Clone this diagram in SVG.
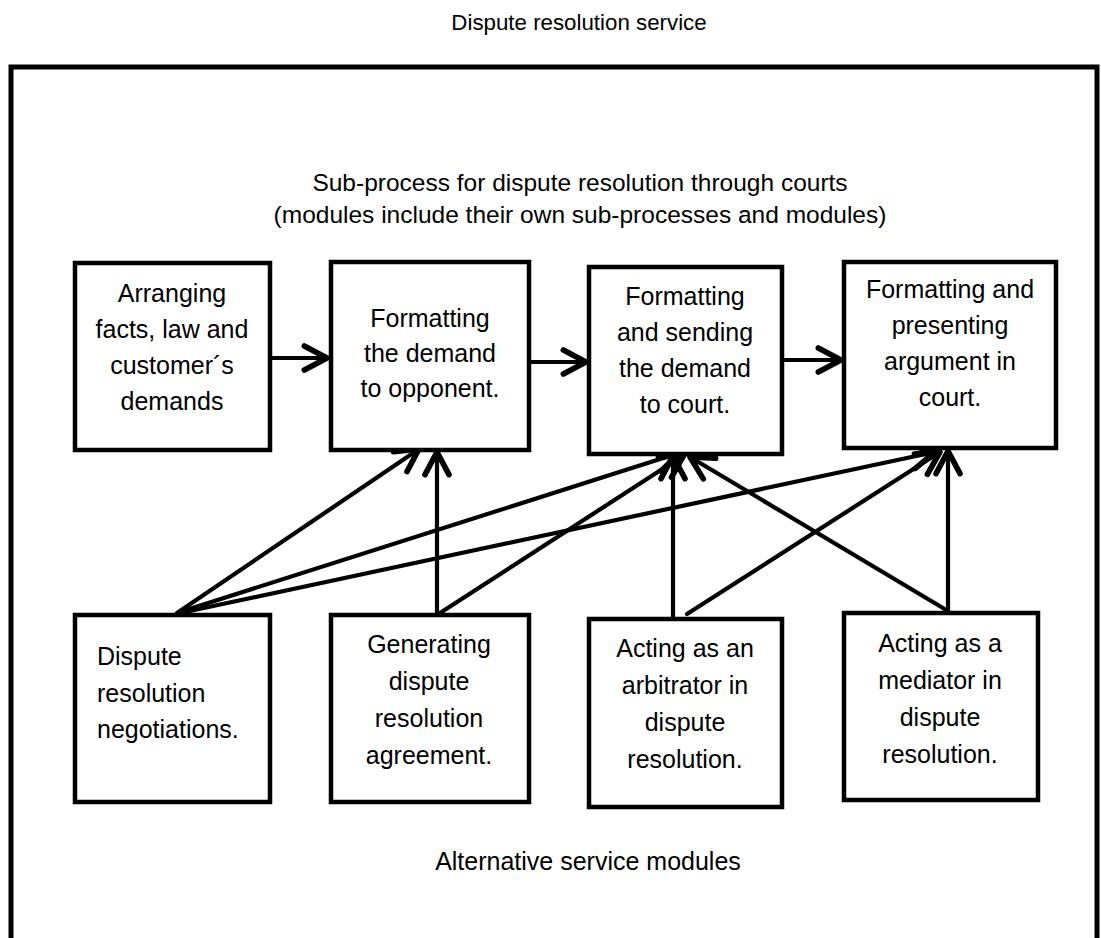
<svg xmlns="http://www.w3.org/2000/svg" width="1101" height="938" viewBox="0 0 1101 938">
<style>
.t{font-family:"Liberation Sans",Arial,sans-serif;font-size:25px;fill:#000;text-anchor:middle}
.l{text-anchor:start}
.box{fill:#fff;stroke:#000;stroke-width:4.5}
.c{fill:none;stroke:#000;stroke-width:4.2;stroke-linecap:round}
</style>
<defs>
<marker id="ah" markerUnits="userSpaceOnUse" markerWidth="40" markerHeight="40" viewBox="-25 -15 30 30" refX="0" refY="0" orient="auto" overflow="visible">
<path d="M-17,-9 L0,0 L-17,9" fill="none" stroke="#000" stroke-width="4.2" stroke-linecap="round" stroke-linejoin="round"/>
</marker>
</defs>
<rect width="1101" height="938" fill="#fff"/>
<text class="t" x="579" y="30" style="font-size:22.3px">Dispute resolution service</text>
<path d="M11,945 V67 H1097 V945" fill="none" stroke="#000" stroke-width="5"/>
<text class="t" x="580" y="191" style="font-size:24.5px">Sub-process for dispute resolution through courts</text>
<text class="t" x="580" y="223" style="font-size:24.5px">(modules include their own sub-processes and modules)</text>
<text class="t" x="588" y="870">Alternative service modules</text>

<g id="connectors">
<line class="c" x1="270" y1="358" x2="327" y2="358" marker-end="url(#ah)"/>
<line class="c" x1="529" y1="362" x2="586" y2="362" marker-end="url(#ah)"/>
<line class="c" x1="782" y1="360" x2="841" y2="360" marker-end="url(#ah)"/>
<line class="c" x1="177" y1="613" x2="419" y2="449" marker-end="url(#ah)"/>
<line class="c" x1="180" y1="612" x2="679" y2="453" marker-end="url(#ah)"/>
<line class="c" x1="185" y1="612" x2="935" y2="452" marker-end="url(#ah)"/>
<line class="c" x1="437" y1="613" x2="437" y2="452" marker-end="url(#ah)"/>
<line class="c" x1="440" y1="613" x2="684" y2="455" marker-end="url(#ah)"/>
<line class="c" x1="673" y1="617" x2="673" y2="456" marker-end="url(#ah)"/>
<line class="c" x1="687" y1="614" x2="940" y2="452" marker-end="url(#ah)"/>
<line class="c" x1="948" y1="611" x2="948" y2="451" marker-end="url(#ah)"/>
<line class="c" x1="948" y1="611" x2="690" y2="457" marker-end="url(#ah)"/>
</g>

<g id="n1">
<rect class="box" x="75" y="263" width="195" height="187"/>
<text class="t" x="172" y="302">Arranging</text>
<text class="t" x="172" y="338">facts, law and</text>
<text class="t" x="172" y="374">customer´s</text>
<text class="t" x="172" y="410">demands</text>
</g>
<g id="n2">
<rect class="box" x="331" y="262" width="198" height="188"/>
<text class="t" x="430" y="327">Formatting</text>
<text class="t" x="430" y="362">the demand</text>
<text class="t" x="430" y="397">to opponent.</text>
</g>
<g id="n3">
<rect class="box" x="589" y="267" width="193" height="187"/>
<text class="t" x="685" y="305">Formatting</text>
<text class="t" x="685" y="341">and sending</text>
<text class="t" x="685" y="377">the demand</text>
<text class="t" x="685" y="413">to court.</text>
</g>
<g id="n4">
<rect class="box" x="844" y="262" width="212" height="186"/>
<text class="t" x="950" y="298">Formatting and</text>
<text class="t" x="950" y="334">presenting</text>
<text class="t" x="950" y="370">argument in</text>
<text class="t" x="950" y="406">court.</text>
</g>
<g id="n5">
<rect class="box" x="75" y="615" width="195" height="187"/>
<text class="t l" x="97" y="665">Dispute</text>
<text class="t l" x="97" y="702">resolution</text>
<text class="t l" x="97" y="738">negotiations.</text>
</g>
<g id="n6">
<rect class="box" x="331" y="615" width="198" height="187"/>
<text class="t" x="429" y="653">Generating</text>
<text class="t" x="429" y="690">dispute</text>
<text class="t" x="429" y="727">resolution</text>
<text class="t" x="429" y="764">agreement.</text>
</g>
<g id="n7">
<rect class="box" x="589" y="619" width="193" height="188"/>
<text class="t" x="685" y="657">Acting as an</text>
<text class="t" x="685" y="694">arbitrator in</text>
<text class="t" x="685" y="731">dispute</text>
<text class="t" x="685" y="768">resolution.</text>
</g>
<g id="n8">
<rect class="box" x="844" y="613" width="194" height="187"/>
<text class="t" x="940" y="652">Acting as a</text>
<text class="t" x="940" y="689">mediator in</text>
<text class="t" x="940" y="726">dispute</text>
<text class="t" x="940" y="763">resolution.</text>
</g>
</svg>
